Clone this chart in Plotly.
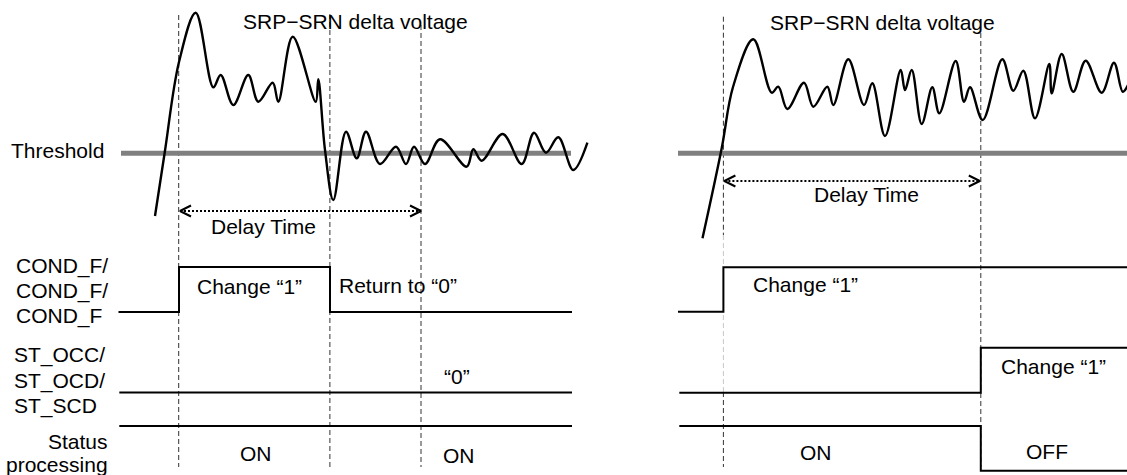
import plotly.graph_objects as go

# ---------------- data (diagram units: x = time axis, y = level axis, top = 0) ----------
left_wave_t = [155, 164.6, 179, 195.7, 213.3, 220.7, 233.3, 248.3, 258.3, 272.7, 278.3, 292.7,
               315.7, 318.3, 325, 333.3, 346, 356.7, 366, 380, 396, 406, 414, 425, 440, 466.7,
               473.3, 481.7, 502.7, 521.7, 534, 546, 558.3, 573.3, 587.4]
left_wave_v = [216, 153.3, 62, 12.7, 87.3, 75, 105, 75, 101.7, 82.7, 101.7, 36.7,
               101.7, 79.3, 150, 200, 131.7, 158.3, 131.7, 164, 146.7, 164, 146.7, 164, 139.3, 166.7,
               149.3, 160.7, 134, 164, 132.7, 152.7, 137.3, 170, 142.7]

right_wave_t = [702.5, 721.7, 733, 753.3, 771.7, 778.3, 787.3, 804, 813.3, 827.3, 833.3, 848.3,
                864, 872.3, 885, 900.7, 905, 911.7, 921.7, 932.3, 939.3, 955.7, 964, 970, 982.7,
                1002.3, 1013.3, 1023.3, 1035, 1049.3, 1051.7, 1061.7, 1073.3, 1085.7, 1101.7,
                1114, 1122.7, 1128]
right_wave_v = [238.3, 148.3, 87, 39.3, 92.7, 86.7, 109, 82.7, 106.7, 86.7, 105, 59.3,
                105, 83.3, 136, 70, 90, 70, 124, 87.3, 113.3, 61, 101.7, 87.3, 120,
                59.3, 90.7, 70.7, 118.3, 64, 93.3, 54, 91.7, 60.7, 92.7,
                62.7, 91.7, 85]

threshold_level = 153.3
threshold_left_t = [121, 571]
threshold_right_t = [678, 1127]

left_events_t = [178.7, 329.9, 421]          # dashed time markers, left case
left_events_top = [15, 14, 25]
right_events_t = [723.4, 980.8]              # dashed time markers, right case
right_events_top = [16.7, 33]
marker_bottom = 467

left_delay_t = [180, 421]
left_delay_level = 211
right_delay_t = [724.4, 979.8]
right_delay_level = 181

cond_left_t = [118.5, 179, 179, 330, 330, 572]
cond_left_v = [312, 312, 267, 267, 312, 312]
st_left_t = [119.3, 572]
st_left_v = [392.5, 392.5]
status_left_t = [119.3, 572]
status_left_v = [426, 426]

cond_right_t = [678, 723.4, 723.4, 1127]
cond_right_v = [311.7, 311.7, 267.3, 267.3]
st_right_t = [679.3, 980.8, 980.8, 1127]
st_right_v = [392.7, 392.7, 347.7, 347.7]
status_right_t = [679.3, 980.8, 980.8, 1127]
status_right_v = [426, 426, 470.7, 470.7]

signal_labels = ["COND_F/", "COND_F/", "COND_F", "ST_OCC/", "ST_OCD/", "ST_SCD"]
signal_label_x = [15, 15, 15, 13.3, 13.3, 13.3]
signal_label_y = [265.7, 290.7, 316, 355, 380.7, 405.7]

note_texts = ["SRP\u2212SRN delta voltage", "SRP\u2212SRN delta voltage", "Delay Time", "Delay Time",
              "Change \u201c1\u201d", "Return to \u201c0\u201d", "\u201c0\u201d", "ON", "ON",
              "Change \u201c1\u201d", "Change \u201c1\u201d", "ON", "OFF"]
note_x = [355.9, 882.8, 263.3, 866.7, 249, 397.6, 456.5, 256, 458.5, 805.4, 1053.6, 816, 1047]
note_y = [21.7, 22.5, 226.7, 194, 286.7, 285, 376.7, 453, 455, 284.3, 366.7, 452.7, 451.7]

# ---------------- figure ----------------
FONT = "Liberation Sans, Arial, sans-serif"
fig = go.Figure()


def line(x, y, color="black", width=2, dash="solid", shape="linear", smoothing=None):
    ln = dict(color=color, width=width, dash=dash, shape=shape)
    if smoothing is not None:
        ln["smoothing"] = smoothing
    fig.add_trace(go.Scatter(x=x, y=y, mode="lines", line=ln, hoverinfo="skip", showlegend=False))


# dashed time markers
for t, top in zip(left_events_t, left_events_top):
    line([t, t], [top, marker_bottom], color="#333333", width=1, dash="5px,3px")
line([right_events_t[0]] * 2, [right_events_top[0], 235], color="#333333", width=1, dash="5px,3px")
line([right_events_t[0]] * 2, [235, 392], color="#c8c8c8", width=1, dash="5px,3px")
line([right_events_t[0]] * 2, [392, marker_bottom], color="#333333", width=1, dash="5px,3px")
line([right_events_t[1]] * 2, [right_events_top[1], marker_bottom], color="#333333", width=1, dash="5px,3px")

# thresholds
line(threshold_left_t, [threshold_level] * 2, color="#808080", width=5)
line(threshold_right_t, [threshold_level] * 2, color="#808080", width=5)

# waveforms
line(left_wave_t, left_wave_v, width=2.4, shape="spline", smoothing=1.0)
line(right_wave_t, right_wave_v, width=2.4, shape="spline", smoothing=1.0)

# delay arrows
for (t0, t1), lv in ((left_delay_t, left_delay_level), (right_delay_t, right_delay_level)):
    line([t0, t1], [lv, lv], width=2, dash="2px,2px")
    line([t0 + 11, t0, t0 + 11], [lv - 5.5, lv, lv + 5.5], width=2)
    line([t1 - 11, t1, t1 - 11], [lv - 5.5, lv, lv + 5.5], width=2)

# digital signals
for x, y in ((cond_left_t, cond_left_v), (st_left_t, st_left_v), (status_left_t, status_left_v),
             (cond_right_t, cond_right_v), (st_right_t, st_right_v), (status_right_t, status_right_v)):
    line(x, y, width=2)

ann = []
ann.append(dict(x=10, y=150.7, text="Threshold", xanchor="left", yanchor="middle"))
for t, x, y in zip(signal_labels, signal_label_x, signal_label_y):
    ann.append(dict(x=x, y=y, text=t, xanchor="left", yanchor="middle"))
ann.append(dict(x=109.3, y=441, text="Status", xanchor="right", yanchor="middle"))
ann.append(dict(x=109.3, y=464.5, text="processing", xanchor="right", yanchor="middle"))
for t, x, y in zip(note_texts, note_x, note_y):
    ann.append(dict(x=x, y=y, text=t, xanchor="center", yanchor="middle"))
for a in ann:
    a.update(xref="x", yref="y", showarrow=False, borderpad=0,
             font=dict(family=FONT, size=21, color="black"))

fig.update_layout(
    width=1127, height=475,
    margin=dict(l=0, r=0, t=0, b=0),
    paper_bgcolor="white", plot_bgcolor="white",
    xaxis=dict(range=[0, 1127], visible=False, fixedrange=True),
    yaxis=dict(range=[475, 0], visible=False, fixedrange=True),
    annotations=ann,
    showlegend=False,
)

fig.write_html(
    "out.html",
    config={"displayModeBar": False},
    post_script="document.body.style.margin='0px';document.body.style.overflow='hidden';",
)
